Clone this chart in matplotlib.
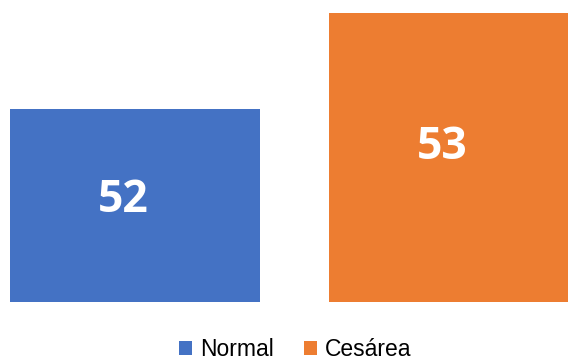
import matplotlib.pyplot as plt
from matplotlib.patches import Patch

categories = ["Normal", "Cesárea"]
values = [52, 53]
colors = ["#4472C4", "#ED7D31"]
y_base = 50
y_top = 53

fig = plt.figure(figsize=(5.68, 3.62), dpi=100)
ax = fig.add_axes([0, 60 / 362, 1, 289 / 362])

x = list(range(len(categories)))
ax.bar(x, [v - y_base for v in values], bottom=y_base, width=0.784, color=colors)
ax.set_ylim(y_base, y_top)
ax.set_xlim(-0.423, 1.357)
ax.axis("off")

# value labels, slightly above the middle of each bar
for xi, v in zip(x, values):
    ax.annotate(str(v), xy=(xi, y_base + 0.555 * (v - y_base)), xytext=(-8.5, 0),
                textcoords="offset points", ha="center", va="center_baseline",
                color="white", fontsize=32, fontweight="bold",
                family="Open Sans")

handles = [Patch(facecolor=c, edgecolor="none") for c in colors]
fig.legend(handles, categories, loc="lower center", bbox_to_anchor=(0.52, -0.055),
           ncol=2, frameon=False, prop={"family": "Liberation Sans", "size": 16.5},
           handlelength=0.55, handleheight=0.55, handletextpad=0.35,
           columnspacing=1.35)

fig.savefig("out.png", dpi=100)
